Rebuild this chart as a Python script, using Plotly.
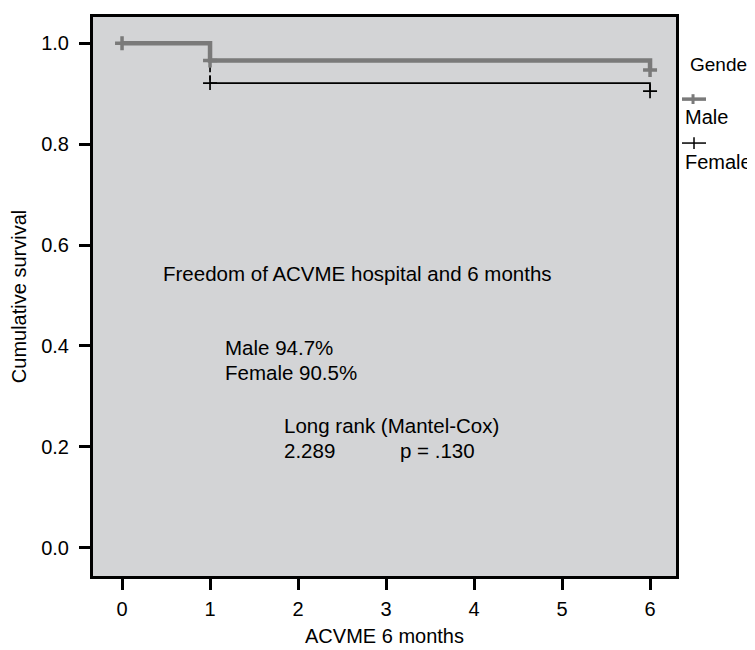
import plotly.graph_objects as go

# ---- data ----
male_time = [0, 1, 6]
male_surv = [1.0, 0.966, 0.947]
male_cens_time = [0, 1, 6]
male_cens_surv = [1.0, 0.966, 0.947]

female_time = [0, 1, 6]
female_surv = [1.0, 0.921, 0.905]
female_cens_time = [1, 6]
female_cens_surv = [0.921, 0.905]

x_ticks = [0, 1, 2, 3, 4, 5, 6]
y_ticks = [0.0, 0.2, 0.4, 0.6, 0.8, 1.0]

MALE_C = "#7a7a7a"
FEMALE_C = "#000000"
FONT = "Liberation Sans, Arial, sans-serif"

fig = go.Figure()

# Female: segment before first event (hidden under male), dashed drop at 1, then solid
fig.add_trace(go.Scatter(x=female_time[:2], y=[female_surv[0], female_surv[0]], mode="lines",
                         line=dict(color=FEMALE_C, width=1.7), showlegend=False, hoverinfo="skip"))
fig.add_trace(go.Scatter(x=[female_time[1], female_time[1]], y=[female_surv[0], female_surv[1]],
                         mode="lines", line=dict(color=FEMALE_C, width=1.7, dash="5px,3px"),
                         showlegend=False, hoverinfo="skip"))
fig.add_trace(go.Scatter(x=female_time[1:], y=female_surv[1:], mode="lines", line_shape="hv",
                         line=dict(color=FEMALE_C, width=1.7), showlegend=False, hoverinfo="skip"))

# Male
fig.add_trace(go.Scatter(x=male_time, y=male_surv, mode="lines", line_shape="hv",
                         line=dict(color=MALE_C, width=4.5), showlegend=False, hoverinfo="skip"))

# Censor marks
fig.add_trace(go.Scatter(x=female_cens_time, y=female_cens_surv, mode="markers",
                         marker=dict(symbol="cross-thin", size=10, line=dict(color=FEMALE_C, width=1.7)),
                         showlegend=False, hoverinfo="skip"))
fig.add_trace(go.Scatter(x=male_cens_time, y=male_cens_surv, mode="markers",
                         marker=dict(symbol="cross-thin", size=10, line=dict(color=MALE_C, width=3.5)),
                         showlegend=False, hoverinfo="skip"))

ann_font = dict(family=FONT, size=20.5, color="#000000")
texts = [
    ("Freedom of ACVME hospital and 6 months", 0.443, 0.543),
    ("Male 94.7%", 1.148, 0.397),
    ("Female 90.5%", 1.148, 0.347),
    ("Long rank (Mantel-Cox)", 1.818, 0.242),
    ("2.289", 1.818, 0.192),
    ("p = .130", 3.136, 0.192),
]
for t, x, y in texts:
    fig.add_annotation(text=t, x=x, y=y, xref="x", yref="y", xanchor="left", yanchor="middle",
                       showarrow=False, font=ann_font)

# Legend (manual, symbol above label)
leg_font = dict(family=FONT, size=19, color="#000000")
fig.add_annotation(text="Gender", x=1.0206, y=0.9143, xref="paper", yref="paper",
                   xanchor="left", yanchor="middle", showarrow=False, font=leg_font)
fig.add_annotation(text="Male", x=1.012, y=0.8217, xref="paper", yref="paper",
                   xanchor="left", yanchor="middle", showarrow=False, font=dict(family=FONT, size=20))
fig.add_annotation(text="Female", x=1.012, y=0.7413, xref="paper", yref="paper",
                   xanchor="left", yanchor="middle", showarrow=False, font=dict(family=FONT, size=20))
shapes = [
    dict(type="line", xref="paper", yref="paper", x0=1.0103, x1=1.0515, y0=0.8531, y1=0.8531,
         line=dict(color=MALE_C, width=3.5)),
    dict(type="line", xref="paper", yref="paper", x0=1.0292, x1=1.0292, y0=0.8444, y1=0.8619,
         line=dict(color=MALE_C, width=3)),
    dict(type="line", xref="paper", yref="paper", x0=1.0103, x1=1.0515, y0=0.7745, y1=0.7745,
         line=dict(color=FEMALE_C, width=1.5)),
    dict(type="line", xref="paper", yref="paper", x0=1.0309, x1=1.0309, y0=0.7640, y1=0.7850,
         line=dict(color=FEMALE_C, width=1.5)),
]

# page body has an 8px default margin, so the figure is 8px smaller and offset
fig.update_layout(
    width=747, height=642,
    margin=dict(l=85, r=79, t=6, b=64),
    paper_bgcolor="white", plot_bgcolor="rgb(211,212,214)",
    font=dict(family=FONT, size=20, color="#000000"),
    shapes=shapes,
    showlegend=False,
)
fig.update_xaxes(range=[-0.33, 6.295], tickvals=x_ticks, ticktext=[str(v) for v in x_ticks],
                 showgrid=False, zeroline=False, showline=True, mirror=True, linecolor="black",
                 linewidth=3, ticks="outside", ticklen=11, tickwidth=2.5, tickcolor="black",
                 title=dict(text="ACVME 6 months", font=dict(size=20), standoff=10),
                 tickfont=dict(size=20), ticklabelstandoff=2)
fig.update_yaxes(range=[-0.056, 1.052], tickvals=y_ticks, ticktext=[f"{v:.1f}" for v in y_ticks],
                 showgrid=False, zeroline=False, showline=True, mirror=True, linecolor="black",
                 linewidth=3, ticks="outside", ticklen=11, tickwidth=2.5, tickcolor="black",
                 title=dict(text="Cumulative survival", font=dict(size=20), standoff=10),
                 tickfont=dict(size=20), ticklabelstandoff=6)

fig.write_html("out.html")
